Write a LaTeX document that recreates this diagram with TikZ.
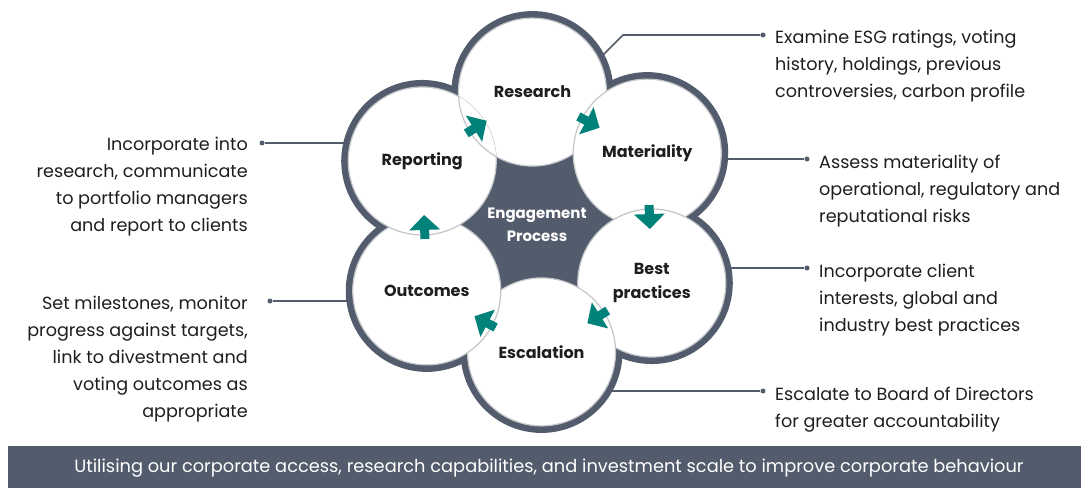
\documentclass[tikz,border=0pt]{standalone}
\usepackage{fontspec}
\setmainfont{Poppins}
\usetikzlibrary{arrows.meta,calc,positioning}
\definecolor{slate}{HTML}{535C6C}
\definecolor{tealc}{HTML}{00827A}
\definecolor{rimgray}{HTML}{C4C6CA}
\definecolor{inkc}{HTML}{1E1E1E}

\tikzset{
  stage/.style={circle, fill=white, draw=rimgray, line width=1.2pt,
    minimum size=148pt, inner sep=0pt, align=center, text=inkc,
    font=\fontsize{16}{24}\selectfont\bfseries},
  flow/.style={tealc, line width=9pt, -{Triangle[length=15pt,width=30pt]},
    shorten <=52pt, shorten >=54pt},
  leader/.style={slate, line width=1.6pt},
  dot/.style={circle, fill=slate, inner sep=0pt, minimum size=5pt},
  note/.style={text=inkc, font=\fontsize{17.6}{27}\selectfont, inner sep=0pt}
}

\begin{document}
\begin{tikzpicture}[x=1pt, y=1pt]
  \def\orb{130}
  \def\rim{81}
  \path[use as bounding box] (0,0) rectangle (1081,488);
  \coordinate (hub) at (537,266);

  % centres of the six stages
  \foreach \nm/\ang in {pr/92, pm/32, pb/-28, pe/-88, po/-148, pp/152}
    \coordinate (\nm) at ($(hub)+(\ang:\orb)$);

  % leader lines (drawn first, the ring covers their inner ends)
  \node[dot] (resdot) at (763,453) {};
  \node[dot] (matdot) at (807,329) {};
  \node[dot] (bestdot) at (807,220) {};
  \node[dot] (escdot) at (763,97) {};
  \node[dot] (repdot) at (262,345) {};
  \node[dot] (outdot) at (270,187) {};
  \coordinate (resbend) at (623,453);
  \draw[leader] (resdot) -- (resbend) -- ++(-28,-28);
  \draw[leader] (matdot) -- (matdot -| pm);
  \draw[leader] (bestdot) -- (bestdot -| pb);
  \draw[leader] (escdot) -- (escdot -| pe);
  \draw[leader] (repdot) -- (repdot -| pp);
  \draw[leader] (outdot) -- (outdot -| po);

  % dark flower behind the stages
  \fill[slate] (pr) -- (pm) -- (pb) -- (pe) -- (po) -- (pp) -- cycle;
  \foreach \nm in {pr,pm,pb,pe,po,pp}
    \fill[slate] (\nm) circle (\rim);

  % stages
  \node[stage] (research) at (pr) {Research};
  \node[stage] (materiality) at (pm) {Materiality};
  \node[stage] (bestpr) at (pb) {Best\\practices};
  \node[stage] (escalation) at (pe) {Escalation};
  \node[stage] (outcomes) at (po) {Outcomes};
  \node[stage] (reporting) at (pp) {Reporting};
  % research sits over reporting
  \begin{scope}
    \clip (pp) circle (74);
    \node[stage] at (pr) {};
  \end{scope}

  \node[text=white, align=center, font=\fontsize{15}{23}\selectfont\bfseries]
    (engage) at ($(hub)+(0,-3)$) {Engagement\\Process};

  % cycle arrows
  \draw[flow] (research.center) -- (materiality.center);
  \draw[flow] (materiality.center) -- (bestpr.center);
  \draw[flow] (bestpr.center) -- (escalation.center);
  \draw[flow] (escalation.center) -- (outcomes.center);
  \draw[flow] (outcomes.center) -- (reporting.center);
  \draw[flow] (reporting.center) -- (research.center);

  % notes
  \node[note, align=left, anchor=north west] (resnote) at ($(resdot)+(12,5)$)
    {Examine ESG ratings, voting\\history, holdings, previous\\controversies, carbon profile};
  \node[note, align=left, anchor=north west] (matnote) at ($(matdot)+(12,4)$)
    {Assess materiality of\\operational, regulatory and\\reputational risks};
  \node[note, align=left, anchor=north west] (bestnote) at ($(bestdot)+(12,4)$)
    {Incorporate client\\interests, global and\\industry best practices};
  \node[note, align=left, anchor=north west] (escnote) at ($(escdot)+(12,4)$)
    {Escalate to Board of Directors\\for greater accountability};
  \node[note, align=right, anchor=north east] (repnote) at ($(repdot)+(-14,6)$)
    {Incorporate into\\research, communicate\\to portfolio managers\\and report to clients};
  \node[note, align=right, anchor=north east] (outnote) at ($(outdot)+(-22,5)$)
    {Set milestones, monitor\\progress against targets,\\link to divestment and\\voting outcomes as\\appropriate};

  % banner
  \fill[slate] (8,0) rectangle (1081,42);
  \node[text=white, font=\fontsize{17.8}{20}\selectfont] (banner) at (549,20)
    {Utilising our corporate access, research capabilities, and investment scale to improve corporate behaviour};
\end{tikzpicture}
\end{document}
